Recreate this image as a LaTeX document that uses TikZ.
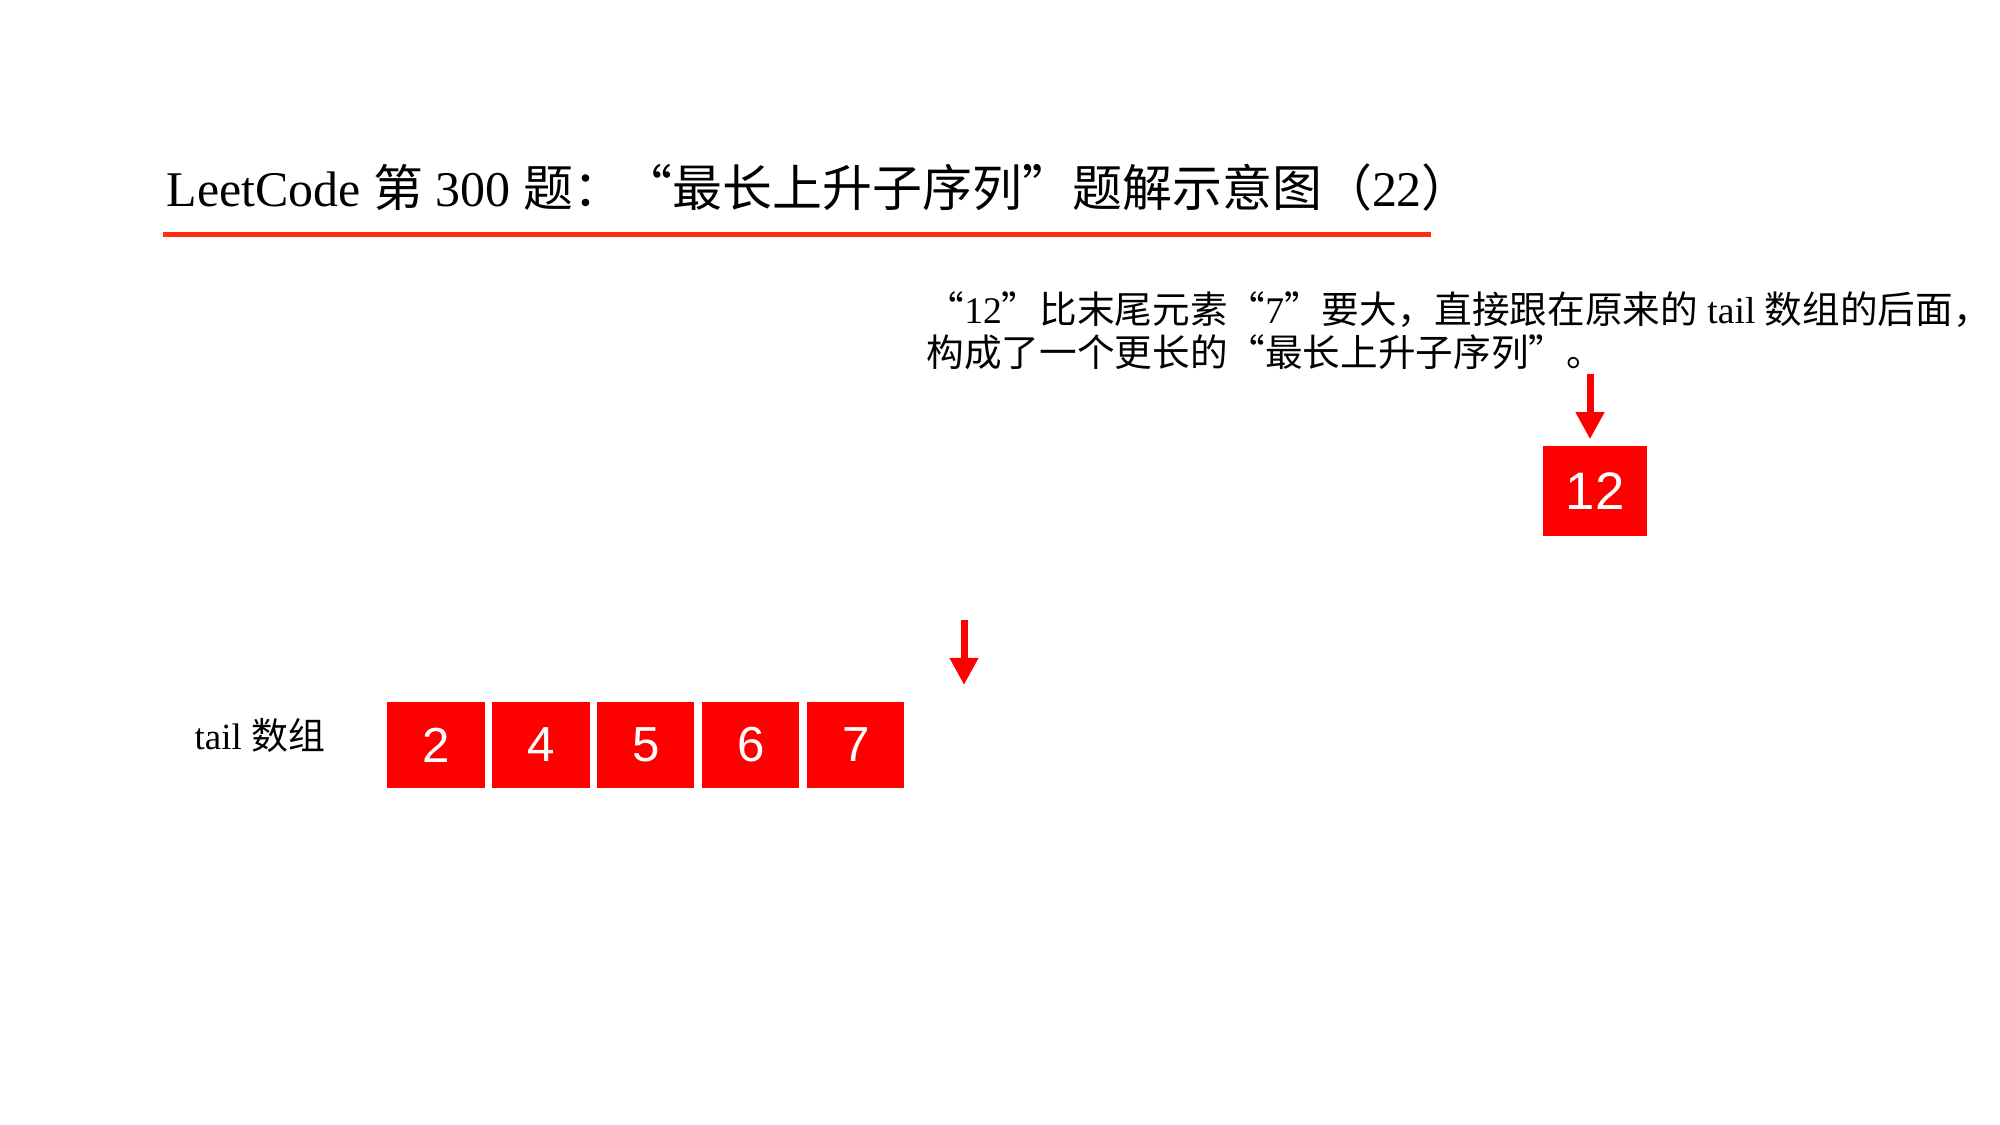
\documentclass[tikz,border=0pt]{standalone}
\usepackage{fontspec}
\setmainfont{Liberation Serif}
\setsansfont{Liberation Sans}
\newfontfamily\cjk{Noto Sans CJK SC}
\usepackage{tikz}
\usepackage{xcolor}
\usetikzlibrary{arrows.meta,positioning}
\definecolor{LCRed}{HTML}{FF0000}
\definecolor{LCLine}{HTML}{FF2A12}
\definecolor{LCBlack}{HTML}{000000}
\definecolor{LCWhite}{HTML}{FFFFFF}
\tikzset{
    % Array cell style
    cellnode/.style={
        fill=LCRed,
        text=LCWhite,
        minimum width=0.97cm,
        minimum height=0.85cm,
        inner sep=0pt,
        font=\sffamily\fontsize{14}{14}\selectfont
    },
    % New element style
    newnode/.style={
        cellnode,
        minimum width=1.04cm,
        minimum height=0.9cm,
        font=\sffamily\fontsize{15}{15}\selectfont
    },
    % Plain text style
    textnode/.style={
        inner sep=0pt,
        text=LCBlack,
        align=left,
        font=\fontsize{10.5}{12.3}\selectfont
    },
    % Pointer arrow
    pointarrow/.style={
        -{Triangle[width=0.27cm,length=0.27cm]},
        line width=0.07cm,
        draw=LCRed
    }
}

\begin{document}
\begin{tikzpicture}[x=0.01cm, y=-0.01cm]
        \useasboundingbox (0,0) rectangle (2000,1125);

        % Title
        \node[textnode, anchor=base west, font=\fontsize{14.2}{14.2}\selectfont] (title) at (166,207)
            {LeetCode {\cjk 第} 300 {\cjk 题：“最长上升子序列”题解示意图（}22{\cjk ）}};
        \coordinate (ruleL) at (163,235);
        \coordinate (ruleR) at (1431,235);
        \draw[LCLine, line width=0.05cm] (ruleL) -- (ruleR);

        % Explanation
        \node[textnode, anchor=north west, font=\fontsize{10.7}{12.3}\selectfont] (note) at (926,291) {
            {\cjk “}12{\cjk ”比末尾元素“}7{\cjk ”要大，直接跟在原来的} tail {\cjk 数组的后面，}\\
            {\cjk 构成了一个更长的“最长上升子序列”。}
        };

        % New element
        \node[newnode] (new) at (1595,491) {12};
        \coordinate (newtop) at (1590,374);
        \draw[pointarrow, shorten >=0.06cm] (newtop) -- (newtop |- new.north);

        % tail array
        \node[textnode, anchor=base west] (label) at (194,749) {tail {\cjk 数组}};
        \node[cellnode] (c1) at (436,745) {2};
        \node[cellnode, right=0.065cm of c1] (c2) {4};
        \node[cellnode, right=0.065cm of c2] (c3) {5};
        \node[cellnode, right=0.065cm of c3] (c4) {6};
        \node[cellnode, right=0.065cm of c4] (c5) {7};

        % Next slot pointer
        \coordinate (slottop) at (964,620);
        \coordinate (slottip) at (964,685);
        \draw[pointarrow] (slottop) -- (slottip);
    \end{tikzpicture}
\end{document}
